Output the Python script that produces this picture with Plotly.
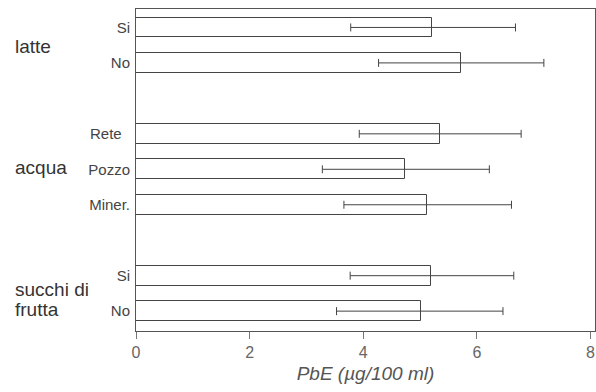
import plotly.graph_objects as go

# Data
labels = ["Si", "No", "Rete\u00a0\u00a0", "Pozzo", "Miner.", "Si", "No"]
positions = [0, 1, 3, 4, 5, 7, 8]
means = [5.21, 5.72, 5.35, 4.73, 5.12, 5.20, 5.01]
err_low = [3.78, 4.27, 3.93, 3.28, 3.66, 3.77, 3.53]
err_high = [6.68, 7.18, 6.78, 6.22, 6.61, 6.65, 6.46]
group_lines = ["latte", "acqua", "succhi di", "frutta"]
group_line_pos = [0.55, 3.95, 7.38, 7.96]
x_ticks = [0, 2, 4, 6, 8]

plus = [h - m for h, m in zip(err_high, means)]
minus = [m - l for m, l in zip(means, err_low)]

fig = go.Figure()
fig.add_trace(go.Bar(
    x=means, y=positions, orientation="h", width=0.56,
    marker=dict(color="white", line=dict(color="#444", width=1)),
    error_x=dict(type="data", array=plus, arrayminus=minus, symmetric=False,
                 color="#444", thickness=1, width=4),
    showlegend=False,
))

for g, p in zip(group_lines, group_line_pos):
    fig.add_annotation(text=g, x=-0.268, y=p, xref="paper", yref="y",
                       xanchor="left", yanchor="middle", showarrow=False, align="left",
                       font=dict(family="Liberation Sans, Arial", size=19, color="#333"))

fig.update_layout(
    width=596, height=392,
    margin=dict(l=136, r=1, t=9, b=61),
    plot_bgcolor="white", paper_bgcolor="white",
    font=dict(family="Liberation Sans, Arial", color="#555"),
    xaxis=dict(range=[0, 8.08], tickvals=x_ticks, ticks="outside", ticklen=7,
               tickcolor="#777", showgrid=False, zeroline=False,
               showline=True, linecolor="#555", linewidth=1, mirror=True,
               tickfont=dict(size=16, color="#666"),
               title=dict(text="<i>PbE (µg/100 ml)</i>", font=dict(size=19, color="#555"), standoff=6)),
    yaxis=dict(range=[8.56, -0.52], tickvals=positions, ticktext=labels, ticks="",
               showgrid=False, zeroline=False,
               showline=True, linecolor="#555", linewidth=1, mirror=True,
               tickfont=dict(size=15, color="#444"), ticklabelstandoff=2),
    bargap=0,
)

fig.write_html("out.html")
